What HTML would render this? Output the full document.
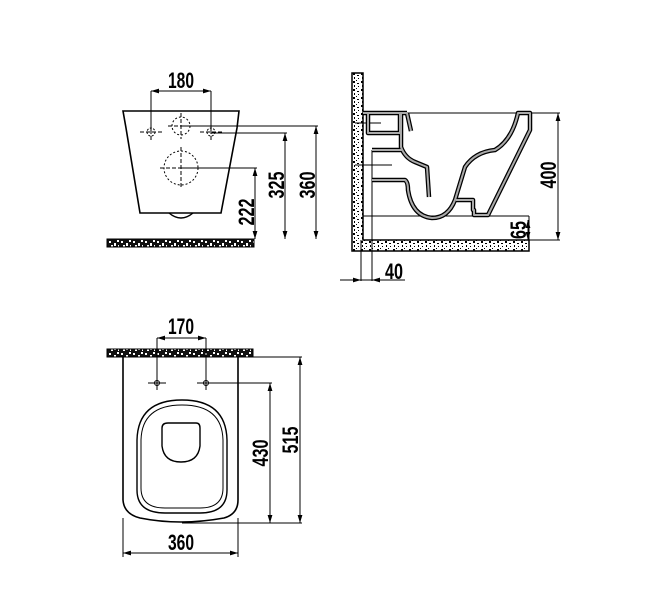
<!DOCTYPE html>
<html><head><meta charset="utf-8"><style>
html,body{margin:0;padding:0;background:#fff;}
svg{display:block;}
text{font-family:"Liberation Sans",sans-serif;font-weight:bold;font-size:22px;fill:#000;}
</style></head><body>
<svg width="645" height="616" viewBox="0 0 645 616" xmlns="http://www.w3.org/2000/svg">
<defs>
<pattern id="dk" width="12" height="8" patternUnits="userSpaceOnUse">
<rect width="12" height="8" fill="#111"/>
<rect x="1" y="1" width="2" height="2" fill="#fff"/><rect x="6" y="3" width="2" height="3" fill="#fff"/>
<rect x="9" y="0" width="2" height="2" fill="#fff"/><rect x="3" y="5" width="2" height="2" fill="#fff"/>
<rect x="10" y="5" width="1" height="2" fill="#fff"/>
</pattern>
<pattern id="lt" width="8" height="8" patternUnits="userSpaceOnUse">
<rect width="8" height="8" fill="#fff"/>
<rect x="1" y="1" width="2" height="2" fill="#000"/><rect x="5" y="3" width="2" height="1" fill="#000"/>
<rect x="2" y="5" width="1" height="2" fill="#000"/><rect x="6" y="6" width="1" height="1" fill="#000"/>
<rect x="4" y="0" width="1" height="1" fill="#000"/>
</pattern>
<marker id="a" viewBox="0 0 10 6" refX="10" refY="3" markerWidth="8" markerHeight="5" orient="auto-start-reverse" markerUnits="userSpaceOnUse"><path d="M0,0L10,3L0,6z" fill="#000"/></marker>
</defs>
<g stroke="#000" fill="none">
<!-- FRONT VIEW -->
<path d="M123,111 L239,111 L237,128 L221,213 L140,213 L126,128 Z" stroke-width="1.6"/>
<path d="M169,213 Q181,223 193,213" stroke-width="1.4"/>
<circle cx="181" cy="126" r="9" stroke-dasharray="2,2" stroke-width="1"/>
<circle cx="181" cy="168" r="17" stroke-dasharray="2,2" stroke-width="1"/>
<circle cx="151" cy="132" r="4" stroke-dasharray="2,1.5" stroke-width="1"/>
<circle cx="211" cy="132" r="4" stroke-dasharray="2,1.5" stroke-width="1"/>
<g stroke-width="1" stroke-dasharray="4,2">
<path d="M140,132H162M151,124V140M200,132H222M211,124V140M168,126H194M181,113V139M160,168H202M181,147V189"/>
</g>
<g stroke-width="1">
<path d="M151,91V132M211,91V132"/>
<path d="M151,91H211" marker-start="url(#a)" marker-end="url(#a)"/>
<path d="M181,126H318M211,133H287M181,168H257"/>
<path d="M255,168V239" marker-start="url(#a)" marker-end="url(#a)"/>
<path d="M285,133V239" marker-start="url(#a)" marker-end="url(#a)"/>
<path d="M316,126V239" marker-start="url(#a)" marker-end="url(#a)"/>
</g>
<rect x="107" y="239" width="147" height="8" fill="url(#dk)" stroke-width="1"/>

<!-- SIDE VIEW -->
<path d="M352,73H363V240H529V251H352Z" fill="url(#lt)" stroke-width="1.5"/>
<g stroke-width="1">
<path d="M363,113H560M529,240H560"/>
<path d="M558,113V240" marker-start="url(#a)" marker-end="url(#a)"/>
<path d="M363,216H529M529,216V240"/>
<path d="M528,220V240" marker-start="url(#a)" marker-end="url(#a)"/>
<path d="M361,240V281M372,150V281"/>
<path d="M352,280H405"/>
<path d="M340,280H361" marker-end="url(#a)"/>
<path d="M390,280H372" marker-end="url(#a)"/>
<path d="M355,123H381M355,165H392"/>
</g>
<g stroke-linejoin="round">
<g stroke="#000" stroke-width="4.5">
<path d="M363,113H407M368,113V133H400V113M407,113L411,131M401,113V147Q405,158 415,162L427,167L429,197M372,150H402M372,180H405Q408,182 408,190Q412,216 432,218Q448,218 455,200L465,167Q475,152 495,150Q512,140 518,113H530V130L488,215H474V210H473V200H456M530,113V130"/>
</g>
<g stroke="#aaa" stroke-width="2">
<path d="M363,113H407M368,113V133H400V113M407,113L411,131M401,113V147Q405,158 415,162L427,167L429,197M372,150H402M372,180H405Q408,182 408,190Q412,216 432,218Q448,218 455,200L465,167Q475,152 495,150Q512,140 518,113H530V130L488,215H474V210H473V200H456M530,113V130"/>
</g>
</g>

<!-- TOP VIEW -->
<rect x="107" y="349" width="146" height="8" fill="url(#dk)" stroke-width="1"/>
<path d="M123,357V500Q124,514 140,518Q180,526 224,518Q238,514 238,500V357" stroke-width="1.6"/>
<path d="M137,440Q138,400 182,400Q226,400 227,440V490Q227,513 200,513H165Q137,513 137,490Z" stroke-width="1.4"/>
<path d="M141,440Q142,405 182,405Q222,405 223,440V488Q223,508 200,508H165Q141,508 141,488Z" stroke-width="1"/>
<path d="M162,428Q162,423 168,423H196Q200,423 200,428V446Q198,462 181,462Q164,462 162,446Z" stroke-width="1.4"/>
<g stroke-width="1">
<circle cx="157" cy="383" r="2.5"/><circle cx="206" cy="383" r="2.5"/>
<path d="M148,383H166M157,376V390M197,383H215M206,376V390"/>
<path d="M157,338V383M206,338V383"/>
<path d="M157,338H206" marker-start="url(#a)" marker-end="url(#a)"/>
<path d="M238,357H302M206,383H272M182,523H302"/>
<path d="M270,383V523" marker-start="url(#a)" marker-end="url(#a)"/>
<path d="M300,357V523" marker-start="url(#a)" marker-end="url(#a)"/>
<path d="M123,518V557M238,518V557"/>
<path d="M123,553H238" marker-start="url(#a)" marker-end="url(#a)"/>
</g>
</g>

<text x="181" y="88" text-anchor="middle" textLength="26" lengthAdjust="spacingAndGlyphs">180</text>
<text transform="translate(254,212) rotate(-90)" text-anchor="middle" textLength="27" lengthAdjust="spacingAndGlyphs">222</text>
<text transform="translate(284,185) rotate(-90)" text-anchor="middle" textLength="27" lengthAdjust="spacingAndGlyphs">325</text>
<text transform="translate(315,185) rotate(-90)" text-anchor="middle" textLength="27" lengthAdjust="spacingAndGlyphs">360</text>
<text transform="translate(556,175) rotate(-90)" text-anchor="middle" textLength="27" lengthAdjust="spacingAndGlyphs">400</text>
<text transform="translate(526,230) rotate(-90)" text-anchor="middle" textLength="18" lengthAdjust="spacingAndGlyphs">65</text>
<text x="394" y="279" text-anchor="middle" textLength="18" lengthAdjust="spacingAndGlyphs">40</text>
<text x="181" y="334" text-anchor="middle" textLength="26" lengthAdjust="spacingAndGlyphs">170</text>
<text transform="translate(268,453) rotate(-90)" text-anchor="middle" textLength="27" lengthAdjust="spacingAndGlyphs">430</text>
<text transform="translate(298,440) rotate(-90)" text-anchor="middle" textLength="27" lengthAdjust="spacingAndGlyphs">515</text>
<text x="181" y="550" text-anchor="middle" textLength="26" lengthAdjust="spacingAndGlyphs">360</text>
</svg>
</body></html>
